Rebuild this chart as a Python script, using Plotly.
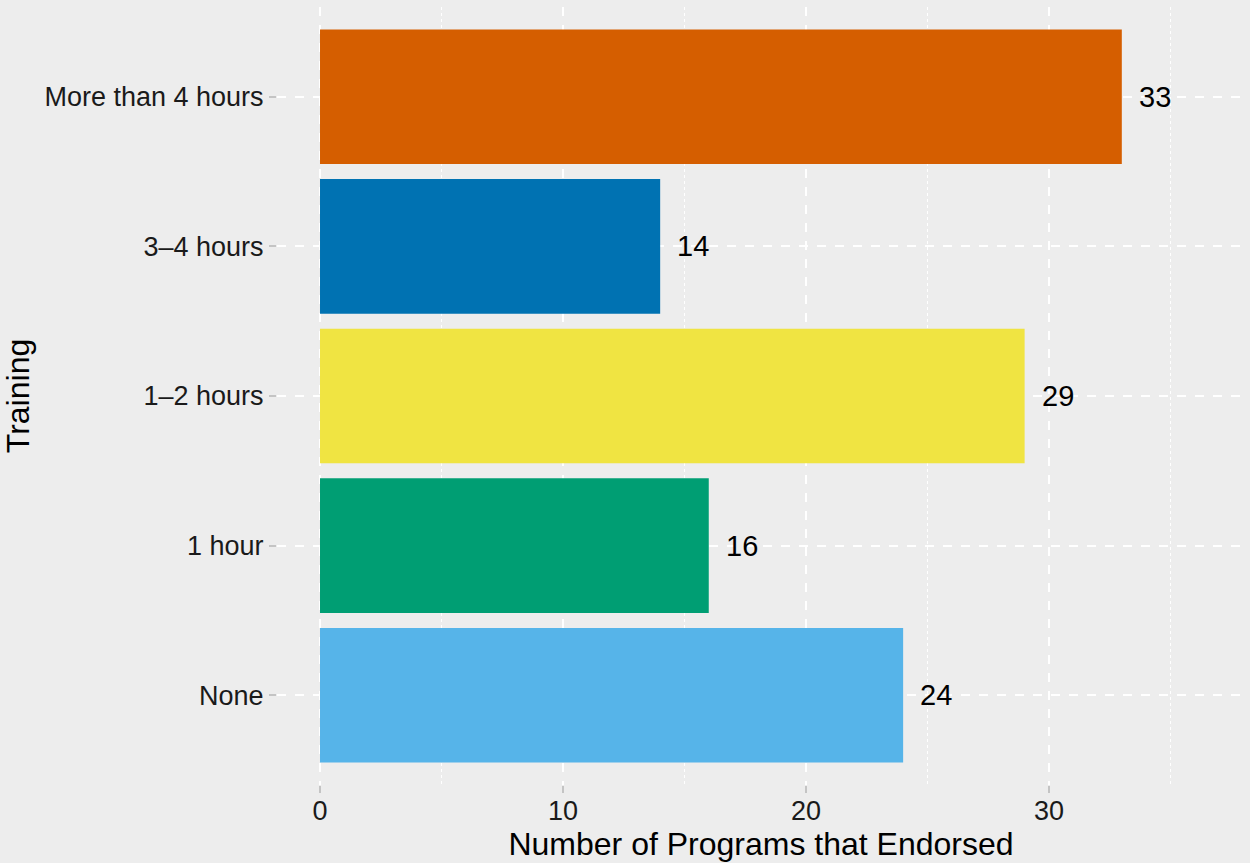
import plotly.graph_objects as go

categories = ["None", "1 hour", "1–2 hours", "3–4 hours", "More than 4 hours"]
values = [24, 16, 29, 14, 33]
colors = ["#56B4E9", "#009E73", "#F0E442", "#0072B2", "#D55E00"]
x_ticks = [0, 10, 20, 30]

BG = "#EDEDED"
FONT = "Liberation Sans, Arial, Helvetica, sans-serif"

fig = go.Figure()
fig.add_trace(go.Bar(
    x=values, y=categories, orientation="h",
    marker=dict(color=colors, line=dict(width=0)),
    hoverinfo="skip",
))

for c, v in zip(categories, values):
    fig.add_annotation(x=v, y=c, text=str(v), showarrow=False,
                       xanchor="left", yanchor="middle", xshift=15,
                       font=dict(family=FONT, size=29, color="#000000"))

fig.update_layout(
    width=1250, height=863,
    paper_bgcolor=BG, plot_bgcolor=BG,
    margin=dict(l=277, r=5, t=7, b=78),
    bargap=0.1,
    showlegend=False,
    font=dict(family=FONT, color="#1a1a1a"),
)
fig.update_xaxes(
    range=[-1.77, 38.07],
    automargin=False,
    tickvals=x_ticks, ticktext=[str(t) for t in x_ticks],
    ticks="outside", ticklen=7, tickwidth=1.5, tickcolor="#C4C4C4",
    tickfont=dict(family=FONT, size=27, color="#1a1a1a"),
    ticklabelstandoff=-5,
    showgrid=True, gridcolor="#FFFFFF", gridwidth=1.5, griddash="dash",
    minor=dict(tickvals=[5, 15, 25, 35], showgrid=True, gridcolor="#FFFFFF",
               gridwidth=1, griddash="dot", ticks=""),
    zeroline=False, showline=False,
    title=dict(text="Number of Programs that Endorsed",
               font=dict(family=FONT, size=32, color="#000000"), standoff=6),
)
fig.update_yaxes(
    categoryorder="array", categoryarray=categories,
    range=[-0.6, 4.6],
    automargin=False,
    ticks="outside", ticklen=7, tickwidth=1.5, tickcolor="#C4C4C4",
    tickfont=dict(family=FONT, size=27, color="#1a1a1a"),
    showgrid=True, gridcolor="#FFFFFF", gridwidth=1.5, griddash="dash",
    zeroline=False, showline=False,
    ticklabelstandoff=0,
    title=dict(text="Training",
               font=dict(family=FONT, size=32, color="#000000"), standoff=30),
)

fig.write_html("out.html",
               config={"displayModeBar": False},
               post_script="document.body.style.margin='0';document.body.style.background='#EDEDED';")
